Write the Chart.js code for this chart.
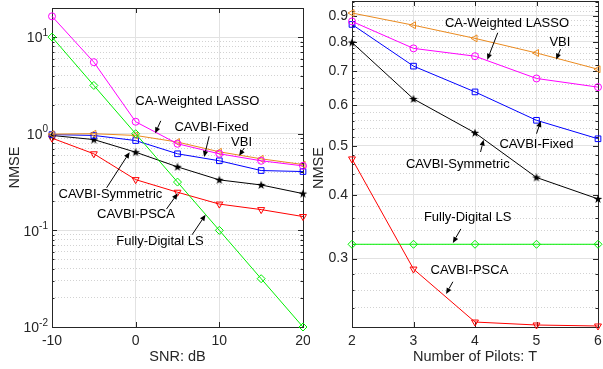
<!DOCTYPE html>
<html>
<head>
<meta charset="utf-8">
<script src="https://cdn.jsdelivr.net/npm/chart.js@4.4.0/dist/chart.umd.min.js"></script>
<style>
  html, body { margin: 0; padding: 0; background: #fff; width: 603px; height: 369px; overflow: hidden; position: relative; }
  canvas { position: absolute; }
  #snr { left: 0; top: 0; }
  #pil { left: 305px; top: -4px; }
</style>
</head>
<body>
<canvas id="snr" width="310" height="369"></canvas>
<canvas id="pil" width="298" height="373"></canvas>
<script>
// left panel: NMSE vs SNR
const snrDb = [-10, -5, 0, 5, 10, 15, 20];
const snrLasso = [16.4, 5.5, 1.33, 0.787, 0.62, 0.525, 0.465];
const snrVbi = [0.99, 1.0, 0.96, 0.82, 0.65, 0.55, 0.48];
const snrFixed = [0.98, 0.96, 0.85, 0.62, 0.525, 0.416, 0.406];
const snrSym = [0.96, 0.87, 0.644, 0.454, 0.333, 0.295, 0.24];
const snrPsca = [0.90, 0.62, 0.335, 0.248, 0.187, 0.164, 0.139];
const snrLs = [10, 3.16, 1, 0.316, 0.1, 0.0316, 0.01];

// right panel: NMSE vs number of pilots
const pilots = [2, 3, 4, 5, 6];
const pilLasso = [0.878, 0.777, 0.75, 0.678, 0.652];
const pilVbi = [0.912, 0.863, 0.813, 0.761, 0.707];
const pilFixed = [0.866, 0.717, 0.638, 0.561, 0.516];
const pilSym = [0.798, 0.618, 0.530, 0.433, 0.393];
const pilPsca = [0.471, 0.286, 0.225, 0.222, 0.221];
const pilLs = [0.32, 0.32, 0.32, 0.32, 0.32];

// y tick values
const snrTicks = [];
for (let e = -2; e <= 1; e++) for (let m = 1; m <= 9; m++) {
  const v = +(m * Math.pow(10, e)).toPrecision(2);
  if (v <= 20) snrTicks.push(v);
}
const pilTicks = [];
for (let k = 24; k <= 96; k += 2) pilTicks.push(k / 100);

// text labels: [text, textX, textY, tailX, tailY, headX, headY] in data units
const snrNotes = [
  ['CA-Weighted LASSO', 7.37, 2.16, 3.0, 1.36, 2.33, 1.01],
  ['CAVBI-Fixed', 9.07, 1.15, 8.78, 0.94, 8.18, 0.574],
  ['VBI', 12.66, 0.82, 12.97, 0.711, 12.37, 0.592],
  ['CAVBI-Symmetric', -3.02, 0.233, -3.47, 0.276, -0.72, 0.644],
  ['CAVBI-PSCA', 0.04, 0.145, 3.68, 0.166, 5.03, 0.242],
  ['Fully-Digital LS', 2.91, 0.0766, 6.74, 0.090, 8.35, 0.145]
];
const pilNotes = [
  ['CA-Weighted LASSO', 4.52, 0.869, 4.37, 0.834, 4.20, 0.738],
  ['VBI', 5.38, 0.798, 5.39, 0.774, 5.32, 0.739],
  ['CAVBI-Fixed', 5.00, 0.502, 5.00, 0.528, 5.07, 0.559],
  ['CAVBI-Symmetric', 3.72, 0.46, 4.09, 0.486, 4.14, 0.514],
  ['Fully-Digital LS', 3.88, 0.362, 3.77, 0.343, 3.64, 0.322],
  ['CAVBI-PSCA', 3.91, 0.284, 3.64, 0.270, 3.53, 0.2556]
];

const FONT = '"Liberation Sans", Arial, Helvetica, sans-serif';
const AXIS = '#262626';
const GRID = '#e2e2e2';
const MINOR = '#d2d2d2';
Chart.defaults.font.family = FONT;
Chart.defaults.color = AXIS;

function starImg() {
  const c = document.createElement('canvas');
  c.width = 10; c.height = 10;
  const g = c.getContext('2d');
  g.beginPath();
  for (let i = 0; i < 10; i++) {
    const r = i % 2 ? 1.8 : 4.5;
    const a = -Math.PI / 2 + i * Math.PI / 5;
    g.lineTo(5 + r * Math.cos(a), 5.3 + r * Math.sin(a));
  }
  g.closePath();
  g.fillStyle = '#000';
  g.fill();
  return c;
}
const star = starImg();

function series(label, xs, ys, color, style, extra) {
  return Object.assign({
    label,
    data: xs.map((x, i) => ({ x, y: ys[i] })),
    borderColor: color,
    backgroundColor: color,
    borderWidth: 1,
    pointStyle: style,
    pointRadius: 3.5,
    pointBorderColor: color,
    pointBackgroundColor: 'rgba(0,0,0,0)',
    pointBorderWidth: 1,
    clip: false
  }, extra || {});
}

function makeSets(xs, lasso, vbi, fixed, sym, psca, ls) {
  return [
    series('Fully-Digital LS', xs, ls, '#00f000', 'rectRot', { pointRadius: 4 }),
    series('CA-Weighted LASSO', xs, lasso, '#ff00ff', 'circle'),
    series('VBI', xs, vbi, '#ea8a1f', 'triangle', { pointRotation: 270, pointRadius: 4 }),
    series('CAVBI-Fixed', xs, fixed, '#0000ff', 'rect', { pointRadius: 4 }),
    series('CAVBI-Symmetric', xs, sym, '#000000', star),
    series('CAVBI-PSCA', xs, psca, '#ff0000', 'triangle', { pointRotation: 180, pointRadius: 4 })
  ];
}

// box and inward tick marks
const frame = {
  id: 'frame',
  beforeDatasetsDraw(chart) {
    const { ctx, chartArea: a, scales: { x, y } } = chart;
    ctx.save();
    ctx.strokeStyle = AXIS;
    ctx.lineWidth = 1;
    ctx.beginPath();
    for (const t of y.ticks) {
      const py = Math.round(y.getPixelForValue(t.value)) + 0.5;
      const len = t.big ? 5 : 2.5;
      ctx.moveTo(a.left, py); ctx.lineTo(a.left + len, py);
      ctx.moveTo(a.right, py); ctx.lineTo(a.right - len, py);
    }
    for (const t of x.ticks) {
      const px = Math.round(x.getPixelForValue(t.value)) + 0.5;
      ctx.moveTo(px, a.bottom); ctx.lineTo(px, a.bottom - 5);
      ctx.moveTo(px, a.top); ctx.lineTo(px, a.top + 5);
    }
    ctx.stroke();
    ctx.strokeRect(Math.round(a.left) + 0.5, Math.round(a.top) + 0.5,
      Math.round(a.right - a.left), Math.round(a.bottom - a.top));
    ctx.restore();
  }
};

// 10^k labels on the left panel
const powLabels = {
  id: 'powLabels',
  afterDraw(chart) {
    const { ctx, chartArea: a, scales: { y } } = chart;
    ctx.save();
    ctx.fillStyle = AXIS;
    ctx.textAlign = 'right';
    ctx.textBaseline = 'middle';
    for (const t of y.ticks) {
      if (!t.big) continue;
      const py = y.getPixelForValue(t.value);
      const e = String(Math.round(Math.log10(t.value)));
      const ex = a.left - 4;
      ctx.font = '10px ' + FONT;
      ctx.fillText(e, ex, py - 4);
      const w = ctx.measureText(e).width;
      ctx.font = '14px ' + FONT;
      ctx.fillText('10', ex - w, py + 1.5);
    }
    ctx.restore();
  }
};

// y title of the right panel, level with the left one
const pilTitle = {
  id: 'pilTitle',
  afterDraw(chart) {
    const { ctx } = chart;
    ctx.save();
    ctx.fillStyle = AXIS;
    ctx.font = '14.5px ' + FONT;
    ctx.textAlign = 'center';
    ctx.textBaseline = 'middle';
    ctx.translate(14, 172);
    ctx.rotate(-Math.PI / 2);
    ctx.fillText('NMSE', 0, 0);
    ctx.restore();
  }
};

function notesPlugin(items) {
  return {
    id: 'notes',
    afterDatasetsDraw(chart) {
      const { ctx, scales: { x, y } } = chart;
      ctx.save();
      ctx.fillStyle = '#000';
      ctx.strokeStyle = '#000';
      ctx.lineWidth = 1;
      ctx.font = '13px ' + FONT;
      ctx.textAlign = 'center';
      ctx.textBaseline = 'middle';
      for (const n of items) {
        ctx.fillText(n[0], x.getPixelForValue(n[1]), y.getPixelForValue(n[2]));
        const x1 = x.getPixelForValue(n[3]), y1 = y.getPixelForValue(n[4]);
        const x2 = x.getPixelForValue(n[5]), y2 = y.getPixelForValue(n[6]);
        const ang = Math.atan2(y2 - y1, x2 - x1);
        const hl = 6, hw = 2.6;
        const bx = x2 - hl * Math.cos(ang), by = y2 - hl * Math.sin(ang);
        ctx.beginPath();
        ctx.moveTo(x1, y1); ctx.lineTo(bx, by);
        ctx.stroke();
        ctx.beginPath();
        ctx.moveTo(x2, y2);
        ctx.lineTo(bx + hw * Math.sin(ang), by - hw * Math.cos(ang));
        ctx.lineTo(bx - hw * Math.sin(ang), by + hw * Math.cos(ang));
        ctx.closePath();
        ctx.fill();
      }
      ctx.restore();
    }
  };
}

function logAxis(min, max, vals, isBig, labelCb, yWidth, titlePad, showTitle) {
  return {
    type: 'logarithmic',
    min, max,
    afterBuildTicks: s => {
      s.ticks = vals.filter(v => v >= min && v <= max).map(v => ({ value: v, big: isBig(v) }));
    },
    ticks: { autoSkip: false, padding: 4, color: AXIS, font: { size: 14 }, callback: labelCb },
    grid: {
      drawTicks: false,
      color: c => (c.tick && !c.tick.big) ? MINOR : GRID
    },
    border: { display: false, dash: c => (c.tick && !c.tick.big) ? [1, 2] : [] },
    title: { display: showTitle, text: 'NMSE', color: AXIS, font: { size: 14.5 }, padding: { top: titlePad, bottom: 0 } },
    afterFit: s => { s.width = yWidth; s.paddingTop = 0; s.paddingBottom = 0; }
  };
}

function linAxis(min, max, step, title) {
  return {
    type: 'linear',
    min, max,
    ticks: { stepSize: step, padding: 6, maxRotation: 0, color: AXIS, font: { size: 14 } },
    grid: { drawTicks: false, color: GRID },
    border: { display: false },
    title: { display: true, text: title, color: AXIS, font: { size: 14.5 }, padding: { top: 0, bottom: 3 } },
    afterFit: s => { s.height = 42; s.paddingLeft = 0; s.paddingRight = 0; }
  };
}

const common = {
  responsive: false,
  animation: false,
  devicePixelRatio: 1,
  plugins: { legend: { display: false }, tooltip: { enabled: false } }
};

const isPow10 = v => Math.abs(Math.log10(v) - Math.round(Math.log10(v))) < 1e-9;

new Chart(document.getElementById('snr'), {
  type: 'line',
  data: { datasets: makeSets(snrDb, snrLasso, snrVbi, snrFixed, snrSym, snrPsca, snrLs) },
  options: Object.assign({}, common, {
    layout: { padding: { top: 8, right: 7, left: 0, bottom: 0 } },
    scales: {
      x: linAxis(-10, 20, 10, 'SNR: dB'),
      y: logAxis(0.01, 20, snrTicks, isPow10, () => '', 52, 6, true)
    }
  }),
  plugins: [frame, powLabels, notesPlugin(snrNotes)]
});

const isTenth = v => Math.round(v * 100) % 10 === 0;
new Chart(document.getElementById('pil'), {
  type: 'line',
  data: { datasets: makeSets(pilots, pilLasso, pilVbi, pilFixed, pilSym, pilPsca, pilLs) },
  options: Object.assign({}, common, {
    layout: { padding: { top: 0, right: 1, left: 0, bottom: 0 } },
    scales: {
      x: linAxis(2, 6, 1, 'Number of Pilots: T'),
      y: logAxis(0.2213, 0.963, pilTicks, isTenth, v => isTenth(v) ? v.toFixed(1) : '', 47, 5, false)
    }
  }),
  plugins: [frame, pilTitle, notesPlugin(pilNotes)]
});
</script>
</body>
</html>
